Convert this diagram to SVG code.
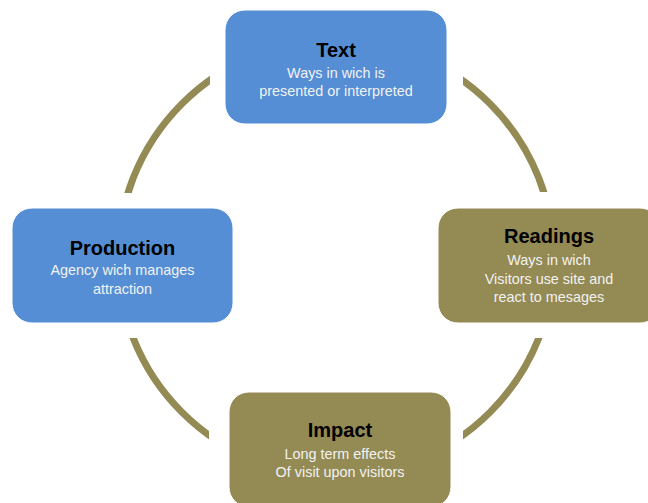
<svg xmlns="http://www.w3.org/2000/svg" width="648" height="503" viewBox="0 0 648 503">
<style>
.blue{fill:#558ED5;stroke:#ffffff;stroke-width:1}
.olive{fill:#948A54;stroke:#ffffff;stroke-width:1}
.t{font-family:"Liberation Sans",Arial,sans-serif;font-weight:bold;font-size:20px;fill:#000;text-anchor:middle}
.s{font-family:"Liberation Sans",Arial,sans-serif;font-size:14.4px;fill:#F2F2F2;text-anchor:middle}
.arc{fill:none;stroke:#948A54;stroke-width:7}
</style>
<defs>
<mask id="cut" maskUnits="userSpaceOnUse" x="0" y="0" width="648" height="503">
<rect x="0" y="0" width="648" height="503" fill="#fff"/>
<rect x="210" y="0" width="253" height="140" fill="#000"/>
<rect x="0" y="193" width="248" height="145" fill="#000"/>
<rect x="423" y="192" width="225" height="146" fill="#000"/>
<rect x="209" y="377" width="254" height="126" fill="#000"/>
</mask>
</defs>
<rect x="0" y="0" width="648" height="503" fill="#fff"/>
<g id="connectors" mask="url(#cut)">
<path class="arc" d="M336,40 A218,218 0 0 0 118,258"/>
<path class="arc" d="M118,258 A218,218 0 0 0 336,476"/>
<path class="arc" d="M336,476 A218,218 0 0 0 554,258"/>
<path class="arc" d="M554,258 A218,218 0 0 0 336,40"/>
</g>
<g id="text-node">
<rect class="blue" x="225" y="10" width="222" height="114" rx="20"/>
<text class="t" x="336" y="57">Text</text>
<text class="s" x="336" y="78">Ways in wich is</text>
<text class="s" x="336" y="96">presented or interpreted</text>
</g>
<g id="production-node">
<rect class="blue" x="12" y="208" width="221" height="115" rx="20"/>
<text class="t" x="122.5" y="255">Production</text>
<text class="s" x="122.5" y="275">Agency wich manages</text>
<text class="s" x="122.5" y="294">attraction</text>
</g>
<g id="readings-node">
<rect class="olive" x="438" y="208" width="222" height="115" rx="20"/>
<text class="t" x="549" y="243">Readings</text>
<text class="s" x="549" y="265">Ways in wich</text>
<text class="s" x="549" y="283.5">Visitors use site and</text>
<text class="s" x="549" y="302">react to mesages</text>
</g>
<g id="impact-node">
<rect class="olive" x="229" y="392" width="222" height="115" rx="20"/>
<text class="t" x="340" y="437">Impact</text>
<text class="s" x="340" y="459">Long term effects</text>
<text class="s" x="340" y="477">Of visit upon visitors</text>
</g>
</svg>
